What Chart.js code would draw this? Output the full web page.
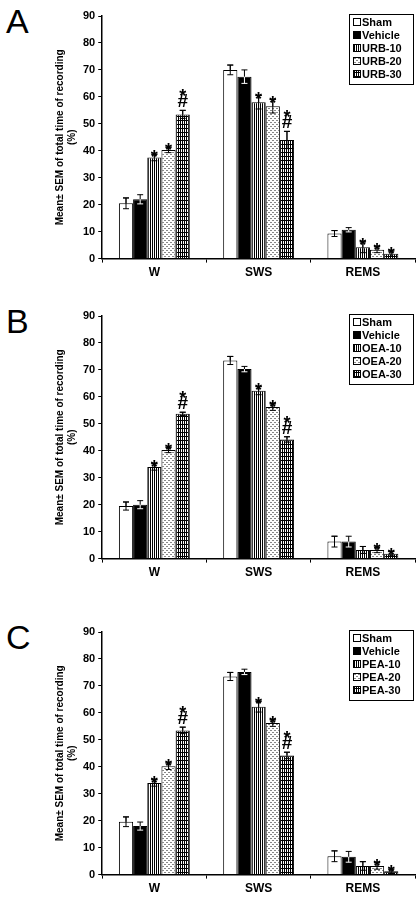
<!DOCTYPE html>
<html><head><meta charset="utf-8">
<script src="https://cdn.jsdelivr.net/npm/chart.js@4/dist/chart.umd.min.js"></script>
<style>
body{margin:0;background:#fff;width:420px;height:901px;position:relative;overflow:hidden;font-family:Arial,"Liberation Sans",sans-serif}
.p{position:absolute;left:0;width:420px;height:285px}
.lt{position:absolute;left:6px;font-size:34px;font-family:"Liberation Sans",Arial,sans-serif}
</style></head><body>
<div class="lt" style="top:2px">A</div>
<div class="lt" style="top:302px">B</div>
<div class="lt" style="top:618px">C</div>
<div class="p" style="top:0"><canvas id="cA"></canvas></div>
<div class="p" style="top:300px"><canvas id="cB"></canvas></div>
<div class="p" style="top:616px"><canvas id="cC"></canvas></div>
<script>
const categories = ["W", "SWS", "REMS"];
const yTicks = [0, 10, 20, 30, 40, 50, 60, 70, 80, 90];

// panel A (URB)
const namesA = ["Sham", "Vehicle", "URB-10", "URB-20", "URB-30"];
const meanA = [[20.5, 70, 9.3], [22, 67.5, 10.7], [37.5, 58, 4.2], [40.3, 56.5, 3.3], [53.5, 44, 1.8]];
const semA = [[2, 1.8, 1.1], [1.7, 2.5, 0.8], [1.2, 2.5, 2], [1, 2.5, 1.1], [1.5, 3.2, 1]];
const markA = [["", "", ""], ["", "", ""], ["*", "*", "*"], ["*", "*", "*"], ["*#", "*#", "*"]];

// panel B (OEA)
const namesB = ["Sham", "Vehicle", "OEA-10", "OEA-20", "OEA-30"];
const meanB = [[19.5, 73.5, 6.3], [20, 70.3, 6.3], [34, 62.3, 3.2], [40.3, 56.2, 3.2], [53.7, 44.2, 1.8]];
const semB = [[1.5, 1.5, 2], [1.5, 1, 2], [1.2, 1.5, 1.3], [1, 1.2, 1], [0.6, 1, 0.8]];
const markB = [["", "", ""], ["", "", ""], ["*", "*", ""], ["*", "*", "*"], ["*#", "*#", "*"]];

// panel C (PEA)
const namesC = ["Sham", "Vehicle", "PEA-10", "PEA-20", "PEA-30"];
const meanC = [[19.6, 73.5, 6.8], [18, 75.2, 6.6], [34, 62.3, 3.2], [40.2, 56.2, 3.2], [53.5, 44.2, 1.2]];
const semC = [[1.8, 1.5, 2], [1.5, 1, 2], [1.2, 2, 1.6], [1.2, 1.2, 1.2], [1.2, 1.2, 0.8]];
const markC = [["", "", ""], ["", "", ""], ["*", "*", ""], ["*", "*", "*"], ["*#", "*#", "*"]];

// fill patterns for the five groups
function makePattern(kind) {
  const c = document.createElement("canvas");
  c.width = 4; c.height = 4;
  const g = c.getContext("2d");
  g.fillStyle = "#fff"; g.fillRect(0, 0, 4, 4);
  g.fillStyle = "#000";
  if (kind === 1) { g.fillRect(0, 0, 4, 4); }
  if (kind === 2) { g.fillRect(0, 0, 1, 4); g.fillRect(2, 0, 1, 4); }
  if (kind === 3) { g.fillStyle = "#888"; g.fillRect(0, 0, 2, 1); g.fillRect(2, 2, 2, 1); }
  if (kind === 4) { g.fillRect(0, 0, 4, 1); g.fillRect(0, 0, 1, 4); g.fillRect(2, 0, 1, 4); }
  return document.createElement("canvas").getContext("2d").createPattern(c, "repeat");
}
const fills = [0, 1, 2, 3, 4].map(makePattern);

const errorPlugin = {
  id: "errs",
  afterDatasetsDraw(chart, args, opts) {
    const ctx = chart.ctx, y = chart.scales.y;
    ctx.save();
    chart.data.datasets.forEach((ds, i) => {
      chart.getDatasetMeta(i).data.forEach((bar, j) => {
        const v = ds.data[j], e = opts.sem[i][j];
        const yt = y.getPixelForValue(v + e), yb = y.getPixelForValue(v - e);
        ctx.strokeStyle = i === 1 ? "#fff" : "#000";
        ctx.lineWidth = 1;
        ctx.beginPath();
        ctx.moveTo(bar.x, yb); ctx.lineTo(bar.x, yt);
        ctx.moveTo(bar.x - 3, yt); ctx.lineTo(bar.x + 3, yt);
        ctx.moveTo(bar.x - 3, yb); ctx.lineTo(bar.x + 3, yb);
        ctx.stroke();
        ctx.strokeStyle = "#000";
        ctx.beginPath();
        ctx.moveTo(bar.x, Math.min(y.getPixelForValue(v), yb)); ctx.lineTo(bar.x, yt);
        ctx.moveTo(bar.x - 3, yt); ctx.lineTo(bar.x + 3, yt);
        ctx.stroke();
        const m = opts.marks[i][j];
        ctx.fillStyle = "#000";
        ctx.textAlign = "center";
        ctx.textBaseline = "alphabetic";
        let sy = yt + 9;
        if (m.includes("#")) {
          ctx.font = "bold 19px Arial";
          ctx.fillText("#", bar.x, yt - 3);
          sy = yt - 8;
        }
        if (m.includes("*")) {
          ctx.font = "bold 18px Arial";
          ctx.fillText("*", bar.x, sy);
        }
      });
    });
    // legend box
    const lx = chart.chartArea.right - 66, ly = chart.chartArea.top - 2;
    ctx.fillStyle = "#fff";
    ctx.fillRect(lx, ly, 64, 70);
    ctx.strokeStyle = "#000";
    ctx.strokeRect(lx + 0.5, ly + 0.5, 64, 70);
    ctx.font = "bold 11px Arial";
    ctx.textAlign = "left";
    ctx.textBaseline = "middle";
    chart.data.datasets.forEach((ds, i) => {
      const yy = ly + 8 + i * 13;
      ctx.fillStyle = fills[i];
      ctx.fillRect(lx + 4, yy - 4, 7, 7);
      ctx.strokeStyle = "#000";
      ctx.strokeRect(lx + 4.5, yy - 3.5, 7, 7);
      ctx.fillStyle = "#000";
      ctx.fillText(ds.label, lx + 13, yy + 1);
    });
    ctx.restore();
  }
};

function drawPanel(id, names, means, sems, marks) {
  new Chart(document.getElementById(id), {
    type: "bar",
    data: {
      labels: categories,
      datasets: names.map((n, i) => ({
        label: n,
        data: means[i],
        backgroundColor: fills[i],
        borderColor: "#000",
        borderWidth: 1,
        barPercentage: 1,
        categoryPercentage: 0.68
      }))
    },
    options: {
      responsive: true,
      maintainAspectRatio: false,
      animation: false,
      layout: { padding: { top: 16, right: 5, left: 52, bottom: 2 } },
      plugins: {
        legend: { display: false },
        tooltip: { enabled: false },
        errs: { sem: sems, marks: marks }
      },
      scales: {
        x: {
          grid: { drawOnChartArea: false, color: "#000", tickLength: 4, offset: true },
          border: { color: "#000", width: 1.5 },
          ticks: { color: "#000", font: { size: 12, weight: "bold", family: "Arial" } }
        },
        y: {
          min: 0, max: 90,
          afterBuildTicks: (s) => { s.ticks = yTicks.map((v) => ({ value: v })); },
          grid: { drawOnChartArea: false, color: "#000", tickLength: 4 },
          border: { color: "#000", width: 1.5 },
          ticks: { color: "#000", font: { size: 11, weight: "bold", family: "Arial" } },
          title: {
            display: true,
            text: ["Mean\u00b1 SEM of total time of recording", "(%)"],
            color: "#000",
            font: { size: 10, weight: "bold", family: "Arial" },
            padding: 2
          }
        }
      }
    },
    plugins: [errorPlugin]
  });
}

drawPanel("cA", namesA, meanA, semA, markA);
drawPanel("cB", namesB, meanB, semB, markB);
drawPanel("cC", namesC, meanC, semC, markC);
</script>
</body></html>
